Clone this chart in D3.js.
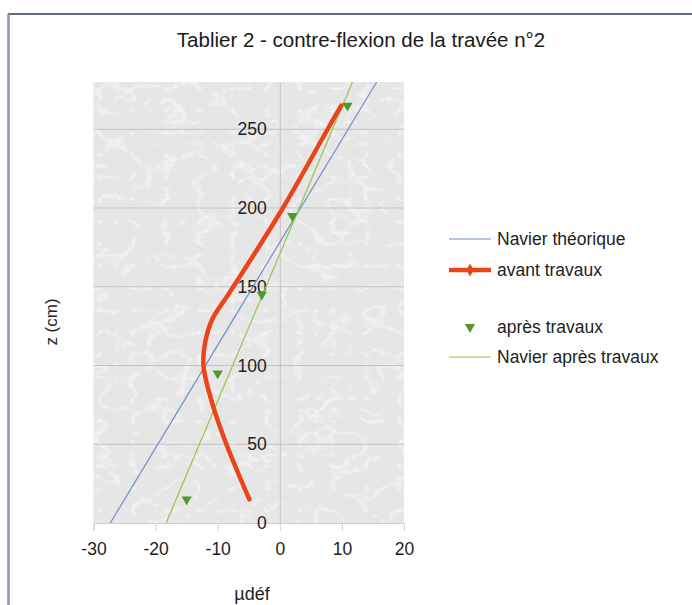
<!DOCTYPE html>
<html>
<head>
<meta charset="utf-8">
<script src="https://cdn.jsdelivr.net/npm/d3@7"></script>
<style>
  body { margin: 0; background: #fff; }
  svg { display: block; font-family: "Liberation Sans", Arial, sans-serif; }
</style>
</head>
<body>
<div id="chart"></div>
<script>
// series
var navierTheoZ = [0, 280];
var navierTheoX = [-27.3, 15.6];

var avantZ = [15, 50, 75, 100, 115, 130, 145, 200, 250, 265];
var avantX = [-4.9, -8.6, -10.8, -12.3, -12.0, -10.8, -8.3, 0.5, 7.7, 9.9];

var apresZ = [15, 95, 145, 195, 265];
var apresX = [-15, -10, -2.9, 2, 10.9];

var navierApresZ = [0, 280];
var navierApresX = [-18.3, 11.7];

var xTicks = [-30, -20, -10, 0, 10, 20];
var yTicks = [0, 50, 100, 150, 200, 250];

var legendLabels = ['Navier théorique', 'avant travaux', 'après travaux', 'Navier après travaux'];

var width = 692;
var height = 605;
var fontFam = '"Liberation Sans", Arial, sans-serif';

var svg = d3.select('#chart')
    .append('svg')
    .attr('width', width)
    .attr('height', height);

// marble-ish background texture
var defs = svg.append('defs');
var filt = defs.append('filter').attr('id', 'marble')
    .attr('x', 0).attr('y', 0).attr('width', 1).attr('height', 1);
filt.append('feTurbulence')
    .attr('type', 'turbulence')
    .attr('baseFrequency', '0.03 0.045')
    .attr('numOctaves', 4)
    .attr('seed', 3)
    .attr('result', 'noise');
filt.append('feColorMatrix')
    .attr('in', 'noise')
    .attr('type', 'matrix')
    .attr('values', '0 0 0 0 1  0 0 0 0 1  0 0 0 0 1  -2.6 0 0 0 0.6');
defs.append('clipPath').attr('id', 'plotClip')
    .append('rect');

var x = d3.scaleLinear().domain([-30, 20]).range([93.5, 404]);
var y = d3.scaleLinear().domain([0, 280]).range([523, 82]);

d3.select('#plotClip rect')
    .attr('x', x(-30)).attr('y', y(280))
    .attr('width', x(20) - x(-30)).attr('height', y(0) - y(280));

// frame
svg.append('line')
    .attr('x1', 8).attr('x2', width).attr('y1', 14).attr('y2', 14)
    .style('stroke', '#2d3e5e').style('stroke-width', 1.6);
svg.append('line')
    .attr('x1', 8.5).attr('x2', 8.5).attr('y1', 14).attr('y2', height)
    .style('stroke', '#8a95aa').style('stroke-width', 2.5);

svg.append('text')
    .attr('x', 361)
    .attr('y', 47)
    .attr('text-anchor', 'middle')
    .style('font-size', '20.5px')
    .style('fill', '#1a1a1a')
    .text('Tablier 2 - contre-flexion de la travée n°2');

// plot background
svg.append('rect')
    .attr('x', x(-30)).attr('y', y(280))
    .attr('width', x(20) - x(-30)).attr('height', y(0) - y(280))
    .style('fill', '#e6e6e6');
svg.append('rect')
    .attr('x', x(-30)).attr('y', y(280))
    .attr('width', x(20) - x(-30)).attr('height', y(0) - y(280))
    .attr('filter', 'url(#marble)');

// horizontal grid
svg.selectAll('.grid')
    .data(yTicks.filter(function (d) {return d > 0;}))
    .enter()
    .append('line')
    .attr('class', 'grid')
    .attr('x1', x(-30)).attr('x2', x(20))
    .attr('y1', function (d) {return y(d);})
    .attr('y2', function (d) {return y(d);})
    .style('stroke', '#c4c4c4').style('stroke-width', 1);

// x axis at z = 0
var xAxis = svg.append('g')
    .attr('transform', 'translate(0,' + y(0) + ')')
    .call(d3.axisBottom(x).tickValues(xTicks).tickSize(8).tickPadding(12)
        .tickFormat(function (d) {return String(d);}));
xAxis.select('.domain').style('stroke', '#d0d0d0');
xAxis.selectAll('.tick line').style('stroke', '#d0d0d0');
xAxis.selectAll('text').style('font-size', '17.5px').style('fill', '#222')
    .style('font-family', fontFam);

// y axis at x = 0
var yAxis = svg.append('g')
    .attr('transform', 'translate(' + x(0) + ',0)')
    .call(d3.axisLeft(y).tickValues(yTicks).tickSize(0).tickPadding(13));
yAxis.select('.domain').style('stroke', '#c4c4c4');
yAxis.selectAll('text').style('font-size', '17.5px').style('fill', '#222')
    .style('font-family', fontFam);

// series
var plot = svg.append('g').attr('clip-path', 'url(#plotClip)');

var line = d3.line()
    .x(function (d) {return x(d[0]);})
    .y(function (d) {return y(d[1]);});

plot.append('path')
    .datum(d3.zip(navierTheoX, navierTheoZ))
    .attr('d', line)
    .style('fill', 'none').style('stroke', '#6f8fc6').style('stroke-width', 1.2);

plot.append('path')
    .datum(d3.zip(navierApresX, navierApresZ))
    .attr('d', line)
    .style('fill', 'none').style('stroke', '#93c452').style('stroke-width', 1.2);

plot.append('path')
    .datum(d3.zip(avantX, avantZ))
    .attr('d', line.curve(d3.curveCatmullRom.alpha(0.5)))
    .style('fill', 'none').style('stroke', '#ec4419').style('stroke-width', 4.5)
    .style('stroke-linecap', 'round');

var tri = d3.symbol().type(d3.symbolTriangle).size(45);
plot.selectAll('.apres')
    .data(d3.zip(apresX, apresZ))
    .enter()
    .append('path')
    .attr('class', 'apres')
    .attr('d', tri)
    .attr('transform', function (d) {return 'translate(' + x(d[0]) + ',' + y(d[1]) + ') rotate(180)';})
    .style('fill', '#4f9a2c');

// axis titles
svg.append('text')
    .attr('transform', 'translate(57,322) rotate(-90)')
    .attr('text-anchor', 'middle')
    .style('font-size', '17px')
    .style('fill', '#222')
    .text('z (cm)');

svg.append('text')
    .attr('x', 252)
    .attr('y', 600)
    .attr('text-anchor', 'middle')
    .style('font-size', '18px')
    .style('fill', '#222')
    .text('µdéf');

// legend
var legendY = [239, 270, 327, 357];
var legend = svg.selectAll('.legend')
    .data(legendLabels)
    .enter()
    .append('g')
    .attr('class', 'legend')
    .attr('transform', function (d, i) {return 'translate(449,' + legendY[i] + ')';});

legend.append('text')
    .attr('x', 48)
    .attr('dy', '0.35em')
    .style('font-size', '17.5px')
    .style('fill', '#222')
    .text(function (d) {return d;});

legend.filter(function (d, i) {return i === 0;}).append('line')
    .attr('x1', 0).attr('x2', 42)
    .style('stroke', '#6f8fc6').style('stroke-width', 1.2);
legend.filter(function (d, i) {return i === 3;}).append('line')
    .attr('x1', 0).attr('x2', 42)
    .style('stroke', '#93c452').style('stroke-width', 1.2);
var avantLeg = legend.filter(function (d, i) {return i === 1;});
avantLeg.append('line')
    .attr('x1', 0).attr('x2', 42)
    .style('stroke', '#ec4419').style('stroke-width', 4.5);
avantLeg.append('path')
    .attr('d', d3.symbol().type(d3.symbolDiamond).size(50))
    .attr('transform', 'translate(21,0)')
    .style('fill', '#ec4419');
legend.filter(function (d, i) {return i === 2;}).append('path')
    .attr('d', tri)
    .attr('transform', 'translate(21,0) rotate(180)')
    .style('fill', '#4f9a2c');
</script>
</body>
</html>
